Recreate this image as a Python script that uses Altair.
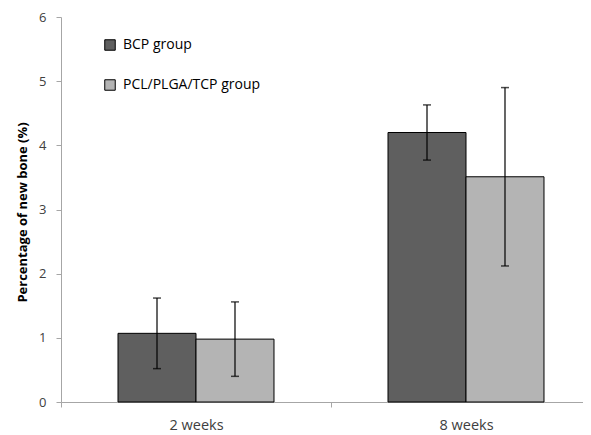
import altair as alt
import pandas as pd

weeks = ["2 weeks", "2 weeks", "8 weeks", "8 weeks"]
groups = ["BCP group", "PCL/PLGA/TCP group", "BCP group", "PCL/PLGA/TCP group"]
means = [1.07, 0.98, 4.20, 3.51]
sds = [0.55, 0.58, 0.43, 1.39]

df = pd.DataFrame({"week": weeks, "group": groups, "mean": means, "sd": sds})
df["lo"] = df["mean"] - df["sd"]
df["hi"] = df["mean"] + df["sd"]

FONT = "Open Sans"
group_order = ["BCP group", "PCL/PLGA/TCP group"]

x = alt.X("week:N", title=None, scale=alt.Scale(range=[0, 540], paddingInner=0, paddingOuter=0),
          axis=alt.Axis(labelAngle=0, tickBand="extent", domainColor="#a6a6a6", tickColor="#a6a6a6",
                        tickSize=5, labelFontSize=14.5, labelColor="#404040", labelFont=FONT,
                        labelPadding=11, grid=False))
xo = alt.XOffset("group:N", sort=group_order, scale=alt.Scale(paddingInner=0, paddingOuter=0.731))

base = alt.Chart(df)

bars = base.mark_bar(stroke="black", strokeWidth=1).encode(
    x=x, xOffset=xo,
    y=alt.Y("mean:Q", title="Percentage of new bone (%)",
            scale=alt.Scale(domain=[0, 6]),
            axis=alt.Axis(values=[0, 1, 2, 3, 4, 5, 6], format="d", grid=False, domainColor="#a6a6a6",
                          tickColor="#a6a6a6", tickSize=5, labelFontSize=13, labelColor="#404040",
                          labelFont=FONT, labelPadding=10, titleFont=FONT, titleFontSize=13,
                          titleFontWeight="bold", titleColor="black",
                          titleX=-39, titleY=195, titleAngle=270, titleAlign="center",
                          titleBaseline="middle")),
    color=alt.Color("group:N", sort=group_order,
                    scale=alt.Scale(domain=group_order, range=["#5f5f5f", "#b4b4b4"]),
                    legend=alt.Legend(title=None, orient="none", legendX=42, legendY=21,
                                      symbolType="square", symbolSize=110, symbolStrokeColor="black",
                                      symbolStrokeWidth=1, labelFont=FONT, labelFontSize=14,
                                      labelColor="black", rowPadding=24, labelOffset=6)),
)

rules = base.mark_rule(color="black", strokeWidth=1.2).encode(
    x=x, xOffset=xo, y="lo:Q", y2="hi:Q")
cap_lo = base.mark_tick(color="black", thickness=1.5, size=8).encode(x=x, xOffset=xo, y="lo:Q")
cap_hi = base.mark_tick(color="black", thickness=1.5, size=8).encode(x=x, xOffset=xo, y="hi:Q")

chart = alt.layer(bars, rules, cap_lo, cap_hi).properties(
    width=522, height=385,
    autosize=alt.AutoSizeParams(type="none"),
    padding={"left": 53, "top": 9, "right": 0, "bottom": 33},
).configure_view(stroke=None)

chart.save("out.html", embed_options={"renderer": "svg", "actions": False})
